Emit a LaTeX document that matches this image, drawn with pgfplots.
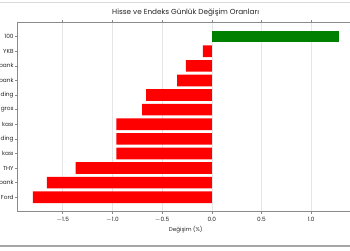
\documentclass[border=0pt]{standalone}
\usepackage{pgfplots}
\pgfplotsset{compat=1.18}
\usepackage{fontspec}
\setmainfont{Poppins}
\definecolor{spine}{HTML}{8A8A8A}
\definecolor{gridc}{HTML}{E6E6E6}
\begin{document}
\begin{tikzpicture}[x=1pt,y=1pt]
\useasboundingbox (0,0) rectangle (350,250);
\clip (0,0) rectangle (350,250);
\fill[white] (0,0) rectangle (350,250);
\draw[gray!30, line width=0.8pt] (0,248) -- (350,248);
\draw[gray!70, line width=2pt] (0,4.5) -- (350,4.5);
\begin{axis}[
  at={(17pt,38.3pt)}, anchor=south west,
  scale only axis, width=337.4pt, height=189.5pt,
  xmin=-1.96, xmax=1.435, ymin=-0.99, ymax=11.99,
  xbar, bar width=0.8, bar shift=0pt,
  xtick={-1.5,-1,-0.5,0,0.5,1},
  xticklabels={$-$1.5,$-$1.0,$-$0.5,0.0,0.5,1.0},
  ytick={0,...,11},
  yticklabels={Ford,bank,THY,kası,ding,kası,gros,ding,bank,bank,YKB,100},
  tick label style={font=\fontsize{5.8}{6.5}\selectfont, text=black!85},
  yticklabel style={inner xsep=1.2pt},
  xlabel={Değişim (\%)},
  xlabel style={font=\fontsize{5.6}{6}\selectfont, yshift=3pt, text=black!85},
  title={Hisse ve Endeks Günlük Değişim Oranları},
  title style={font=\fontsize{7.3}{8}\selectfont, yshift=-3.5pt, text=black!85},
  axis line style={spine, line width=0.6pt},
  tick style={spine, line width=0.5pt},
  tick align=outside, major tick length=2pt,
  xmajorgrids, grid style={gridc, line width=0.5pt},
  /pgf/number format/assume math mode=true,
]
\addplot[draw=none, fill=red] coordinates {
 (-1.80,0) (-1.66,1) (-1.37,2) (-0.96,3) (-0.96,4) (-0.96,5)
 (-0.70,6) (-0.66,7) (-0.35,8) (-0.26,9) (-0.09,10)
};
\addplot[draw=none, fill=green!50!black] coordinates {(1.28,11)};
\end{axis}
\end{tikzpicture}
\end{document}
